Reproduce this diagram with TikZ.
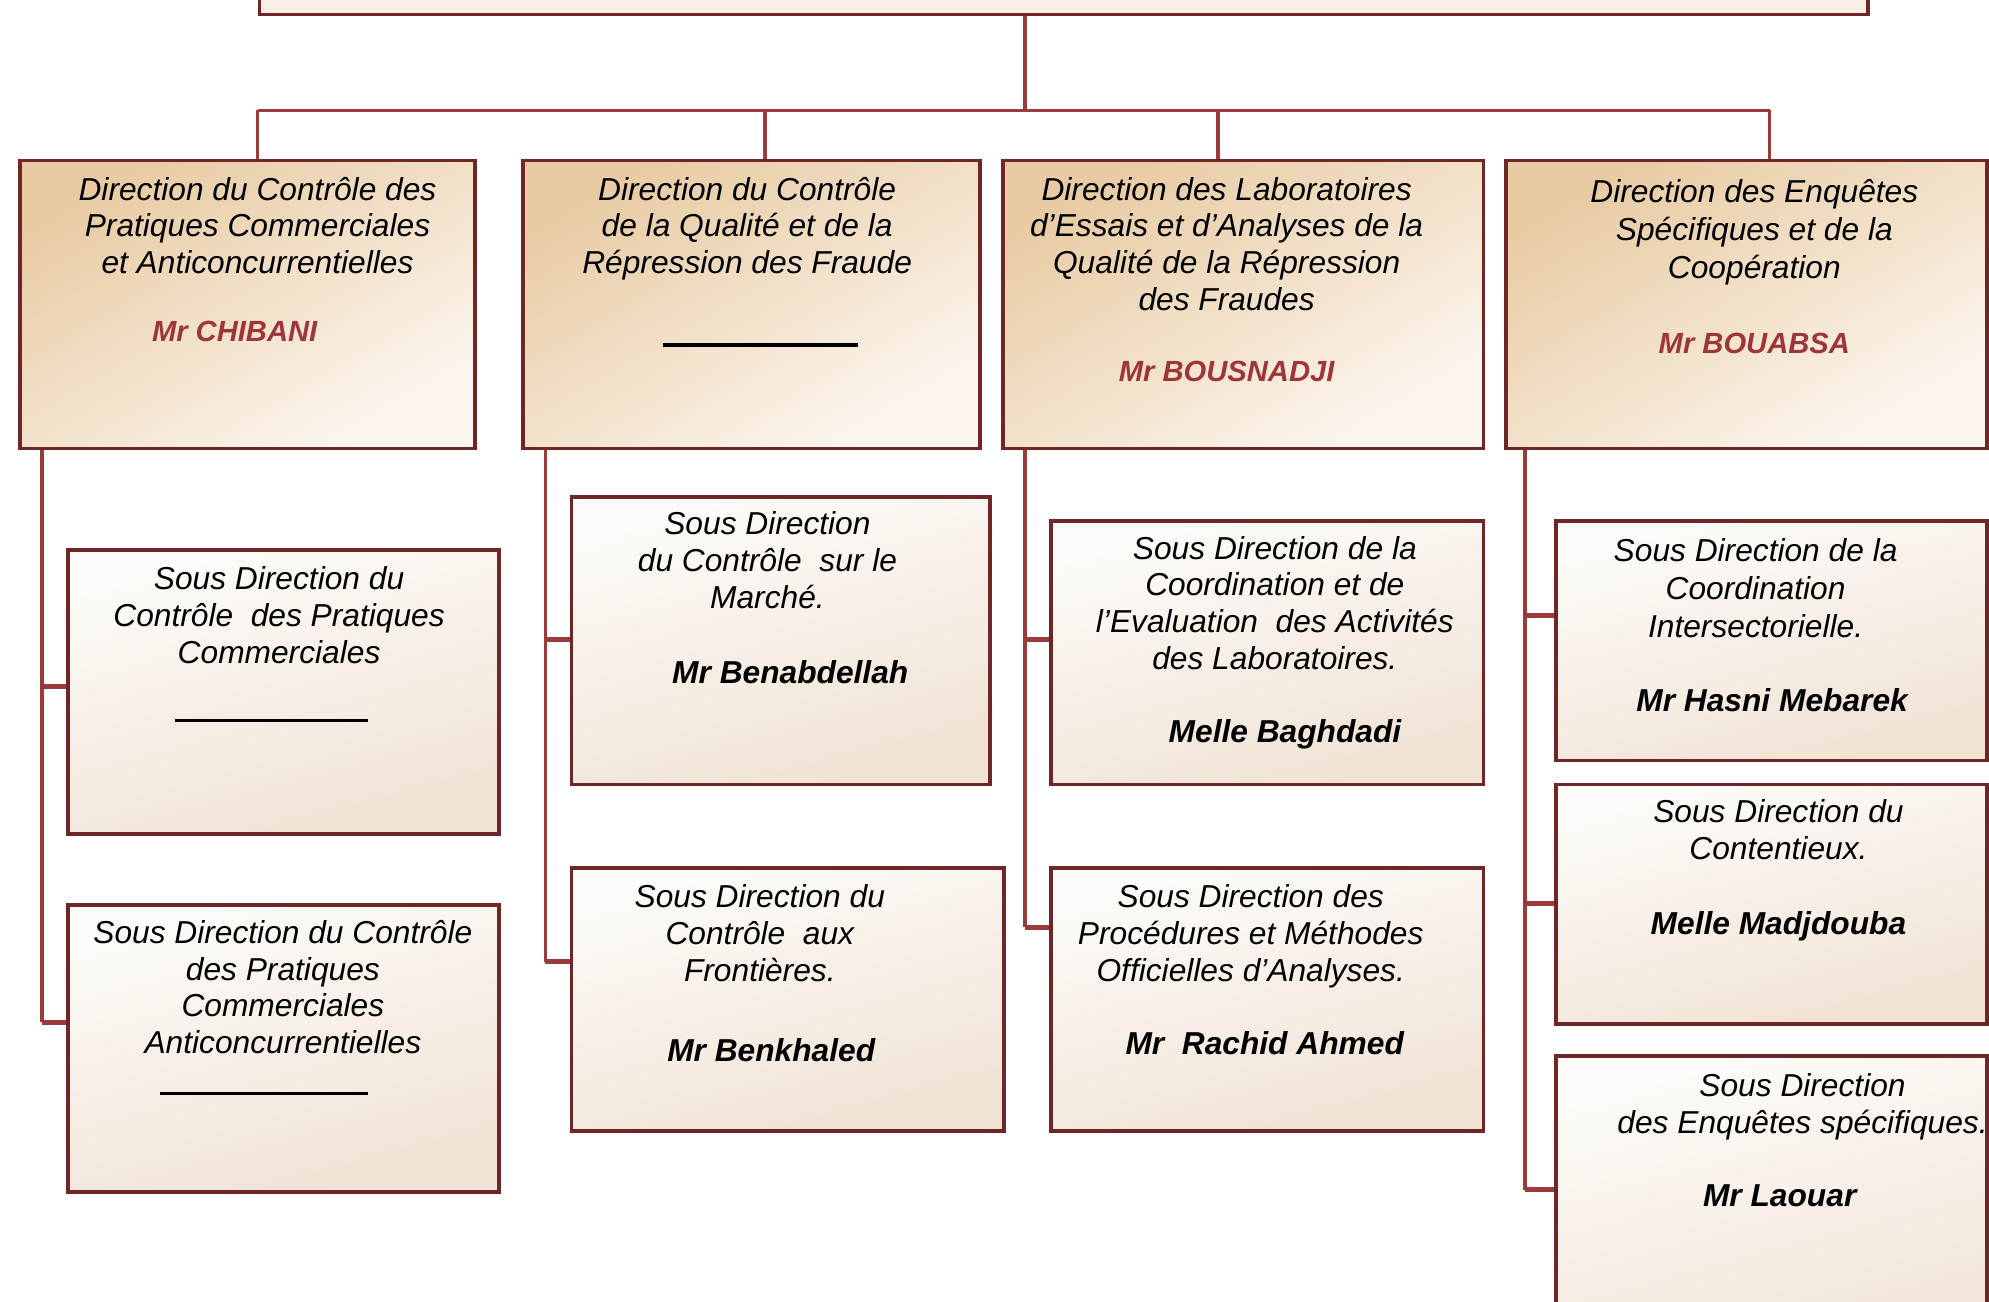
\documentclass[tikz,border=0pt]{standalone}
\usepackage{fontspec}
\setmainfont{Liberation Sans}
\definecolor{bordc}{HTML}{6E2626}
\definecolor{connc}{HTML}{9A3A3A}
\definecolor{tanA}{HTML}{E8CBA3}
\definecolor{creamA}{HTML}{FCF6EF}
\definecolor{whiteB}{HTML}{FDFBF8}
\definecolor{tanB}{HTML}{F0E2D4}
\definecolor{redn}{HTML}{9E3538}
\definecolor{topc}{HTML}{F8EEE5}
\tikzset{
  lone/.style={draw=bordc, line width=3pt, top color=tanA, bottom color=creamA, shading angle=30, anchor=north west, inner sep=0pt},
  subbox/.style={draw=bordc, line width=3pt, top color=whiteB, bottom color=tanB, shading angle=15, anchor=north west, inner sep=0pt},
  conn/.style={draw=connc, line width=2.8pt},
  stub/.style={draw=connc, line width=4pt},
  ttl/.style={anchor=north, align=center, inner sep=0pt, font=\fontsize{25}{29}\selectfont\itshape},
  ttlw/.style={anchor=north, align=center, inner sep=0pt, font=\fontsize{25}{30}\selectfont\itshape},
  nm/.style={anchor=base, inner sep=0pt, font=\fontsize{25}{29}\selectfont\bfseries\itshape},
  rednm/.style={anchor=base, inner sep=0pt, font=\fontsize{23}{27}\selectfont\bfseries\itshape, text=redn},
  uline/.style={line width=2.5pt, black}
}
\begin{document}
\begin{tikzpicture}[x=1pt,y=-1pt]
\useasboundingbox (0,0) rectangle (1568,1026.4);
\clip (0,0) rectangle (1568,1026.4);
\fill[white] (0,0) rectangle (1568,1026.4);

% top box
\node[draw=bordc, line width=3pt, fill=topc, anchor=north west, inner sep=0pt, minimum width=1268pt, minimum height=80pt] (top) at (203,-70) {};

% level 1 boxes
\node[lone, minimum width=359pt, minimum height=227pt] (b1) at (14,125) {};
\node[lone, minimum width=360pt, minimum height=227pt] (b2) at (411,125) {};
\node[lone, minimum width=379pt, minimum height=227pt] (b3) at (789,125) {};
\node[lone, minimum width=379pt, minimum height=227pt] (b4) at (1186,125) {};

% sub boxes
\node[subbox, minimum width=340pt, minimum height=224pt] (s11) at (52,432) {};
\node[subbox, minimum width=340pt, minimum height=226pt] (s12) at (52,712) {};
\node[subbox, minimum width=330pt, minimum height=227pt] (s21) at (449,390) {};
\node[subbox, minimum width=341pt, minimum height=207pt] (s22) at (449,683) {};
\node[subbox, minimum width=341pt, minimum height=208pt] (s31) at (827,409) {};
\node[subbox, minimum width=341pt, minimum height=207pt] (s32) at (827,683) {};
\node[subbox, minimum width=340pt, minimum height=189pt] (s41) at (1225,409) {};
\node[subbox, minimum width=340pt, minimum height=189pt] (s42) at (1225,617) {};
\node[subbox, minimum width=340pt, minimum height=260pt] (s43) at (1225,831) {};

% junction coordinates
\coordinate (jt) at (808,87);
\coordinate (d1) at (203,87);
\coordinate (d2) at (603,87);
\coordinate (d3) at (960,87);
\coordinate (d4) at (1395,87);
\coordinate (e11) at (33,541);
\coordinate (e12) at (33,806);
\coordinate (e21) at (430,504);
\coordinate (e22) at (430,758);
\coordinate (e31) at (808,504);
\coordinate (e32) at (808,731);
\coordinate (e41) at (1202,485);
\coordinate (e42) at (1202,712);
\coordinate (e43) at (1202,938);

% top connectors
\draw[conn] (top.south -| jt) -- (jt);
\draw[conn] (d1) -- (d4);
\draw[conn] (d1) -- (d1 |- b1.north);
\draw[conn] (d2) -- (d2 |- b2.north);
\draw[conn] (d3) -- (d3 |- b3.north);
\draw[conn] (d4) -- (d4 |- b4.north);

% column trunks
\draw[conn] (b1.south -| e11) -- (e12);
\draw[conn] (b2.south -| e21) -- (e22);
\draw[conn] (b3.south -| e31) -- (e32);
\draw[conn] (b4.south -| e41) -- (e43);

% branch stubs
\draw[stub] (e11) -- (e11 -| s11.west);
\draw[stub] (e12) -- (e12 -| s12.west);
\draw[stub] (e21) -- (e21 -| s21.west);
\draw[stub] (e22) -- (e22 -| s22.west);
\draw[stub] (e31) -- (e31 -| s31.west);
\draw[stub] (e32) -- (e32 -| s32.west);
\draw[stub] (e41) -- (e41 -| s41.west);
\draw[stub] (e42) -- (e42 -| s42.west);
\draw[stub] (e43) -- (e43 -| s43.west);

% level 1 texts
\node[ttl] (t1) at (203,137.2) {\strut Direction du Contrôle des\\\strut Pratiques Commerciales\\\strut et Anticoncurrentielles};
\node[rednm] (n1) at (185,269) {Mr CHIBANI};
\node[ttl] (t2) at (589,137.2) {\strut Direction du Contrôle\\\strut de la Qualité et de la\\\strut Répression des Fraude};
\draw[uline] (523,272) -- (676,272);
\node[ttl] (t3) at (967,137.2) {\strut Direction des Laboratoires\\\strut d’Essais et d’Analyses de la\\\strut Qualité de la Répression\\\strut des Fraudes};
\node[rednm] (n3) at (967,301) {Mr BOUSNADJI};
\node[ttlw] (t4) at (1383,138.2) {\strut Direction des Enquêtes\\\strut Spécifiques et de la\\\strut Coopération};
\node[rednm] (n4) at (1383,279) {Mr BOUABSA};

% sub texts
\node[ttl] (u11) at (220,444.2) {\strut Sous Direction du\\\strut Contrôle\ \ des Pratiques\\\strut Commerciales};
\draw[uline] (138,568) -- (290,568);
\node[ttl] (u12) at (223,723.2) {\strut Sous Direction du Contrôle\\\strut des Pratiques\\\strut Commerciales\\\strut Anticoncurrentielles};
\draw[uline] (126,862) -- (290,862);

\node[ttl] (u21) at (605,401.2) {\strut Sous Direction\\\strut du Contrôle\ \ sur le\\\strut Marché.};
\node[nm] (m21) at (623,538.5) {Mr Benabdellah};
\node[ttl] (u22) at (599,695.2) {\strut Sous Direction du\\\strut Contrôle\ \ aux\\\strut Frontières.};
\node[nm] (m22) at (608,836.5) {Mr Benkhaled};

\node[ttl] (u31) at (1005,420.2) {\strut Sous Direction de la\\\strut Coordination et de\\\strut l’Evaluation\ \ des Activités\\\strut des Laboratoires.};
\node[nm] (m31) at (1013,585.5) {Melle Baghdadi};
\node[ttl] (u32) at (986,695.2) {\strut Sous Direction des\\\strut Procédures et Méthodes\\\strut Officielles d’Analyses.};
\node[nm] (m32) at (997,831.5) {Mr\ \ Rachid Ahmed};

\node[ttlw] (u41) at (1384,421.2) {\strut Sous Direction de la\\\strut Coordination\\\strut Intersectorielle.};
\node[nm] (m41) at (1397,560.5) {Mr Hasni Mebarek};
\node[ttl] (u42) at (1402,628.2) {\strut Sous Direction du\\\strut Contentieux.};
\node[nm] (m42) at (1402,736.5) {Melle Madjdouba};
\node[ttl] (u43) at (1421,844.2) {\strut Sous Direction\\\strut des Enquêtes spécifiques.};
\node[nm] (m43) at (1403,951.5) {Mr Laouar};
\end{tikzpicture}
\end{document}
